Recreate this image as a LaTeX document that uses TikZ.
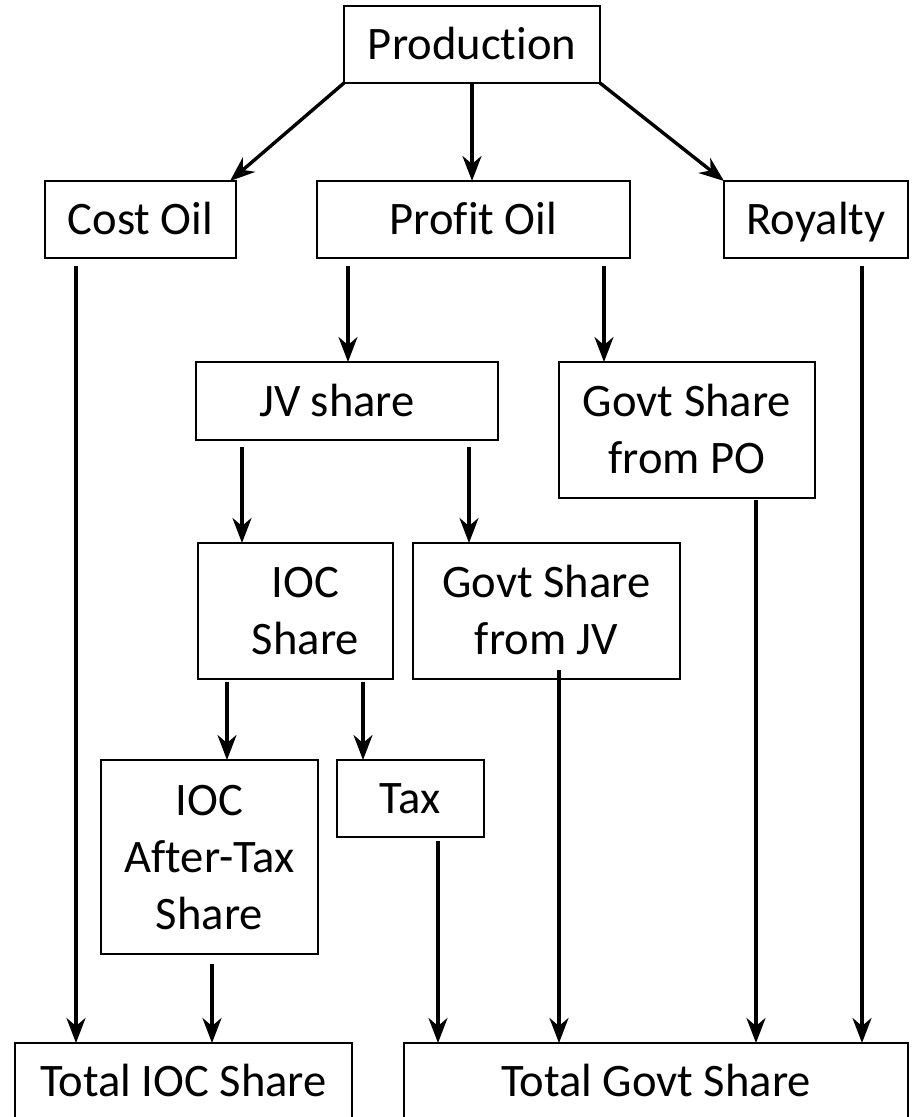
\documentclass[tikz,border=0pt]{standalone}
\usepackage{fontspec}
\setmainfont{Carlito}[Ligatures=CommonOff]
\usepackage{tikz}
\usetikzlibrary{arrows.meta}
\usetikzlibrary{calc}

\begin{document}
\begin{tikzpicture}[x=1pt, y=-1pt,
        box/.style={rectangle, draw=black, line width=2pt, inner sep=0pt, outer sep=0pt, align=center,
                    font=\fontsize{46.6}{57}\selectfont, text height=30pt, text depth=0pt, minimum height=77pt},
        flow/.style={-{Stealth[length=25pt, width=19pt, inset=8pt]}, line width=3.4pt}
      ]
        \useasboundingbox (0,0) rectangle (912,1117);

        \node[box, minimum width=256pt]  (prod)    at(472, 44.5)     {Production};
        \node[box, minimum width=191pt]  (cost)    at(140.5, 219.5)  {Cost Oil};
        \node[box, minimum width=313pt]  (profit)  at(473.5, 219.5)  {Profit Oil};
        \node[box, minimum width=184pt]  (royalty) at(816, 219.5)    {Royalty};
        \node[box, minimum width=302pt, minimum height=78pt]  (jv) at(347, 401)  {JV share\hspace*{20pt}};
        \node[box, minimum width=256pt, minimum height=136pt, text height=87pt]  (govpo) at(687, 430)    {Govt Share\\from PO};
        \node[box, minimum width=195pt, minimum height=136pt, text height=87pt]  (ioc)   at(295.5, 611)  {\hspace*{20pt}IOC\\\hspace*{20pt}Share};
        \node[box, minimum width=267pt, minimum height=136pt, text height=87pt]  (govjv) at(546.5, 611)  {Govt Share\\from JV};
        \node[box, minimum width=217pt, minimum height=194pt, text height=144pt] (after) at(209.5, 857)  {IOC\\After-Tax\\Share};
        \node[box, minimum width=147pt]  (tax)     at(410.5, 798.5)  {Tax};
        \node[box, minimum width=337pt]  (totioc)  at(183.5, 1081.5) {Total IOC Share};
        \node[box, minimum width=504pt]  (totgov)  at(656, 1081.5)   {Total Govt Share};

        \draw[flow]  (prod.south west) -- ($(cost.north east)+(-6,0)$);
        \draw[flow]  (prod.south) -- (prod.south |- profit.north);
        \draw[flow]  (prod.south east) -- (royalty.north west);

        \draw[flow]  ($(cost.south)+(-64.5,8)$) -- ($(cost.south |- totioc.north)+(-64.5,0)$);
        \draw[flow]  ($(jv.north |- profit.south)+(1,8)$) -- ($(jv.north)+(1,0)$);
        \draw[flow]  ($(govpo.north |- profit.south)+(-83,8)$) -- ($(govpo.north)+(-83,0)$);
        \draw[flow]  ($(royalty.south)+(46,8)$) -- ($(royalty.south |- totgov.north)+(46,0)$);

        \draw[flow]  ($(ioc.north |- jv.south)+(-53.5,7)$) -- ($(ioc.north)+(-53.5,0)$);
        \draw[flow]  ($(govjv.north |- jv.south)+(-77.5,7)$) -- ($(govjv.north)+(-77.5,0)$);
        \draw[flow]  ($(govpo.south)+(69,2)$) -- ($(govpo.south |- totgov.north)+(69,0)$);

        \draw[flow]  ($(after.north |- ioc.south)+(17.5,3)$) -- ($(after.north)+(17.5,0)$);
        \draw[flow]  ($(tax.north |- ioc.south)+(-47.5,3)$) -- ($(tax.north)+(-47.5,0)$);
        \draw[flow]  ($(govjv.south)+(12.5,-9)$) -- ($(govjv.south |- totgov.north)+(12.5,0)$);

        \draw[flow]  ($(after.south)+(2.5,10)$) -- ($(after.south |- totioc.north)+(2.5,0)$);
        \draw[flow]  ($(tax.south)+(27.5,4)$) -- ($(tax.south |- totgov.north)+(27.5,0)$);
      \end{tikzpicture}
\end{document}
